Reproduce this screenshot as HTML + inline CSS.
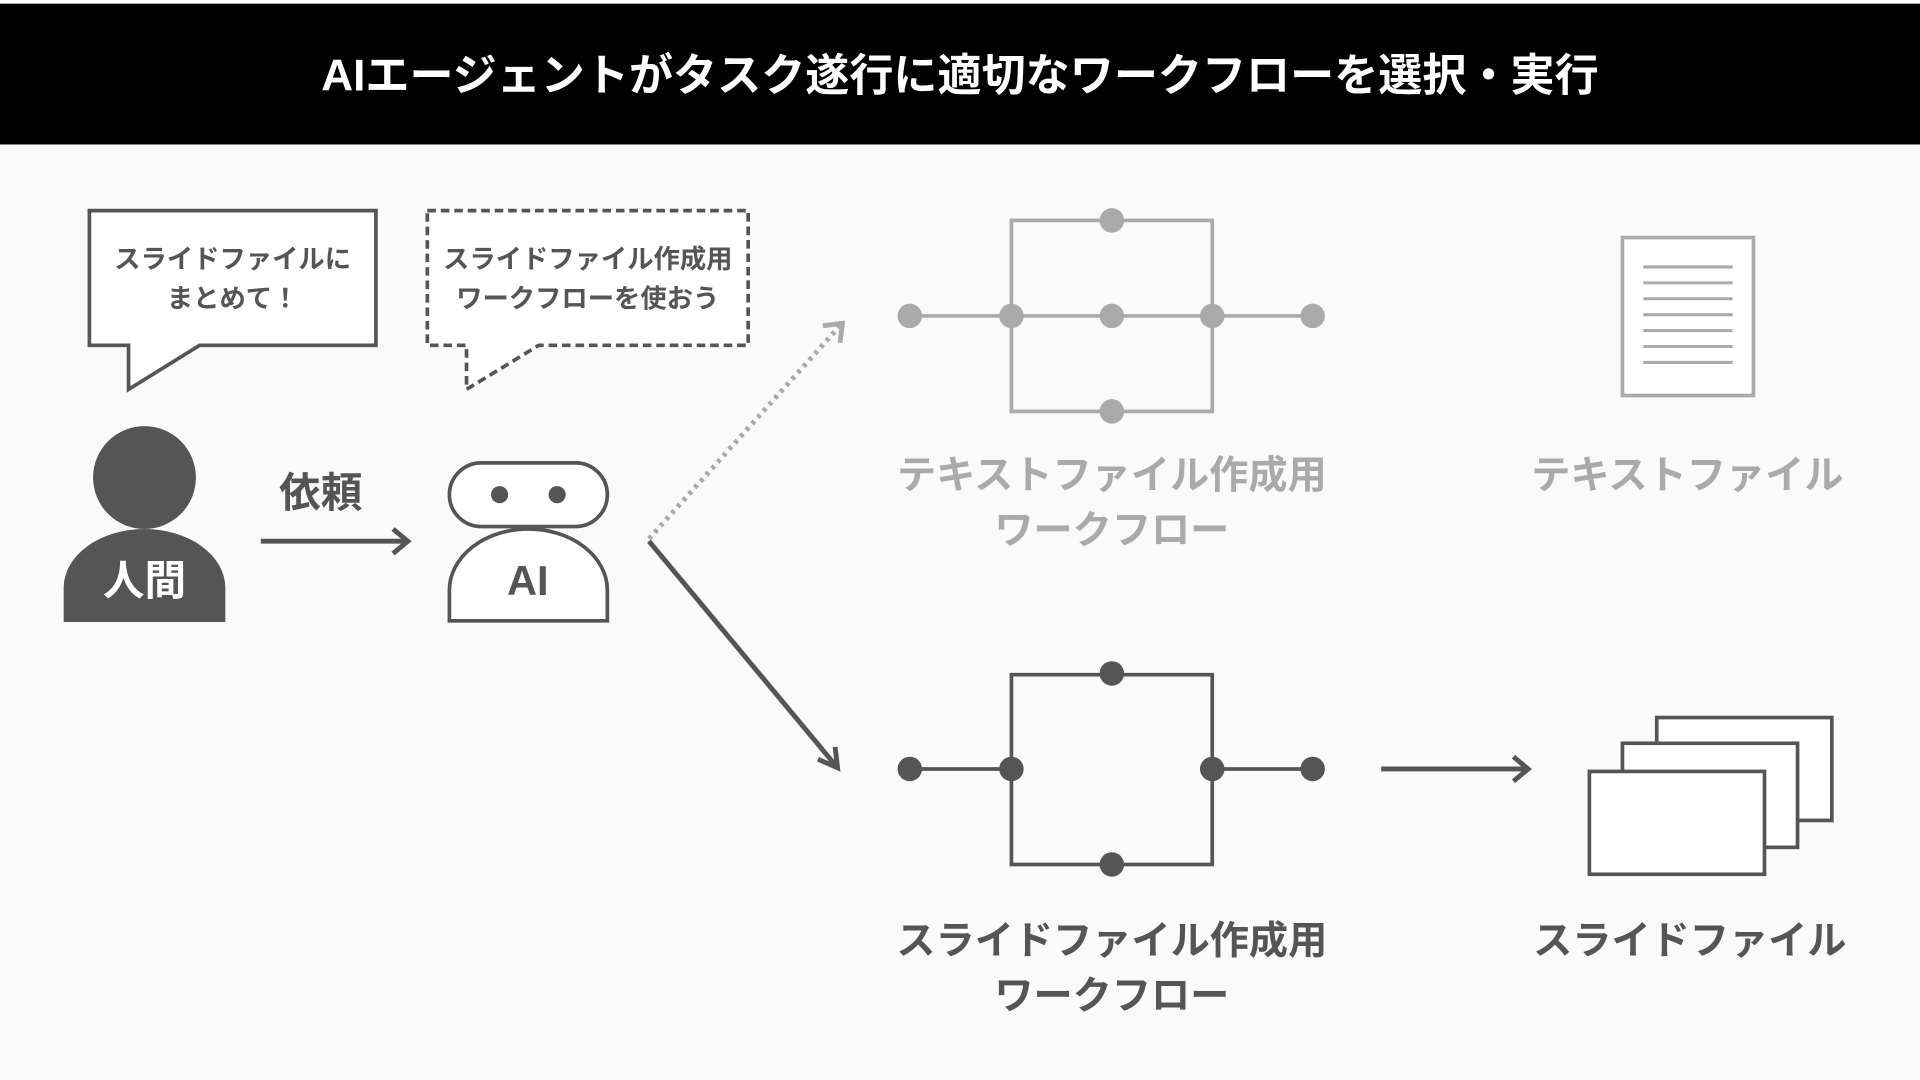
<!DOCTYPE html>
<html><head><meta charset="utf-8"><style>
html,body{margin:0;padding:0;width:1920px;height:1080px;overflow:hidden;background:#fafafa}
svg{display:block}
text{font-family:"Liberation Sans","Noto Sans CJK JP",sans-serif;font-weight:bold;text-anchor:middle}
</style></head><body>
<svg width="1920" height="1080" viewBox="0 0 1568 882" xmlns="http://www.w3.org/2000/svg">
<rect x="0" y="0" width="1568" height="882" fill="#fafafa"/>
<rect x="0" y="0" width="1568" height="3" fill="#fff"/>
<rect x="0" y="3" width="1568" height="115" fill="#000"/>
<text x="784" y="74" font-size="36" fill="#fff">AIエージェントがタスク遂行に適切なワークフローを選択・実行</text>

<path d="M73,172 H307 V282 H163 L105,318 V282 H73 Z" fill="#fff" stroke="#555" stroke-width="3"/>
<text x="190" y="219" font-size="21.5" fill="#555">スライドファイルに</text>
<text x="190" y="251" font-size="21.5" fill="#555">まとめて！</text>
<path d="M349,172 H611 V282 H440 L381,318 V282 H349 Z" fill="#fff" stroke="#555" stroke-width="3" stroke-dasharray="7,4"/>
<text x="480" y="219" font-size="21.5" fill="#555">スライドファイル作成用</text>
<text x="480" y="251" font-size="21.5" fill="#555">ワークフローを使おう</text>

<circle cx="118" cy="390" r="42" fill="#555"/>
<path d="M52,508 V480 A66,48 0 0 1 184,480 V508 Z" fill="#555"/>
<text x="118" y="486" font-size="34" fill="#fff">人間</text>

<text x="262" y="414" font-size="34" fill="#555">依頼</text>
<line x1="213" y1="442" x2="333" y2="442" stroke="#555" stroke-width="4"/>
<polyline points="321,432 333,442 321,452" fill="none" stroke="#555" stroke-width="4"/>

<rect x="367" y="378" width="129" height="52" rx="26" fill="#fff" stroke="#555" stroke-width="3"/>
<circle cx="408" cy="404" r="7" fill="#555"/>
<circle cx="455" cy="404" r="7" fill="#555"/>
<path d="M367,507 V482 A64.5,50 0 0 1 496,482 V507 Z" fill="#fff" stroke="#555" stroke-width="3"/>
<text x="431" y="486" font-size="34" fill="#555">AI</text>

<line x1="530" y1="440" x2="686" y2="266" stroke="#aaa" stroke-width="4" stroke-dasharray="3,4"/>
<polyline points="672,266 688,264 686,280" fill="none" stroke="#aaa" stroke-width="4"/>
<line x1="530" y1="442" x2="684" y2="627" stroke="#555" stroke-width="4"/>
<polyline points="668,620 684,627 682,610" fill="none" stroke="#555" stroke-width="4"/>

<g stroke="#aaa" stroke-width="3" fill="none">
<line x1="743" y1="258" x2="1072" y2="258"/>
<rect x="826" y="180" width="164" height="156"/>
</g>
<g fill="#aaa">
<circle cx="743" cy="258" r="10"/><circle cx="826" cy="258" r="10"/><circle cx="908" cy="258" r="10"/><circle cx="990" cy="258" r="10"/><circle cx="1072" cy="258" r="10"/>
<circle cx="908" cy="180" r="10"/><circle cx="908" cy="336" r="10"/>
</g>
<text x="908" y="399" font-size="32" fill="#aaa">テキストファイル作成用</text>
<text x="908" y="444" font-size="32" fill="#aaa">ワークフロー</text>

<rect x="1325" y="194" width="107" height="129" fill="#fff" stroke="#aaa" stroke-width="3"/>
<g stroke="#aaa" stroke-width="2.5">
<line x1="1342" y1="218" x2="1415" y2="218"/><line x1="1342" y1="231" x2="1415" y2="231"/><line x1="1342" y1="244" x2="1415" y2="244"/><line x1="1342" y1="257" x2="1415" y2="257"/><line x1="1342" y1="270" x2="1415" y2="270"/><line x1="1342" y1="283" x2="1415" y2="283"/><line x1="1342" y1="296" x2="1415" y2="296"/>
</g>
<text x="1378" y="399" font-size="32" fill="#aaa">テキストファイル</text>

<g stroke="#555" stroke-width="3" fill="none">
<line x1="743" y1="628" x2="826" y2="628"/><line x1="990" y1="628" x2="1072" y2="628"/>
<rect x="826" y="551" width="164" height="155"/>
</g>
<g fill="#555">
<circle cx="743" cy="628" r="10"/><circle cx="826" cy="628" r="10"/><circle cx="990" cy="628" r="10"/><circle cx="1072" cy="628" r="10"/>
<circle cx="908" cy="550" r="10"/><circle cx="908" cy="706" r="10"/>
</g>
<text x="908" y="779" font-size="32" fill="#555">スライドファイル作成用</text>
<text x="908" y="824" font-size="32" fill="#555">ワークフロー</text>

<line x1="1128" y1="628" x2="1248" y2="628" stroke="#555" stroke-width="4"/>
<polyline points="1236,618 1248,628 1236,638" fill="none" stroke="#555" stroke-width="4"/>

<g fill="#fff" stroke="#555" stroke-width="3">
<rect x="1353" y="586" width="143" height="84"/>
<rect x="1325" y="607" width="143" height="85"/>
<rect x="1298" y="630" width="143" height="84"/>
</g>
<text x="1380" y="779" font-size="32" fill="#555">スライドファイル</text>
</svg>
</body></html>
